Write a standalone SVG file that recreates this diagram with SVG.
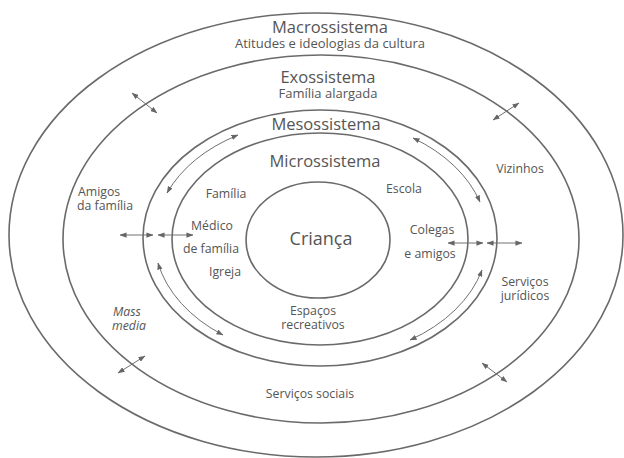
<svg xmlns="http://www.w3.org/2000/svg" width="624" height="458" viewBox="0 0 624 458">
<defs>
<marker id="ah" viewBox="0 0 8 6" refX="7.5" refY="3" markerWidth="7" markerHeight="5.5" markerUnits="userSpaceOnUse" orient="auto-start-reverse">
<path d="M0,0 L8,3 L0,6 Z" fill="#666"/>
</marker>
</defs>
<style>
.ring{fill:none;stroke:#6a6a6a;stroke-width:1.6}
.arr{fill:none;stroke:#707070;stroke-width:1;marker-start:url(#ah);marker-end:url(#ah)}
text{font-family:"Open Sans","Liberation Sans",sans-serif;fill:#555}
.title{font-size:16.5px;text-anchor:middle}
.sub{font-size:13px;text-anchor:middle}
.lbl{font-size:12.3px;text-anchor:middle}
.lbs{font-size:12.3px;text-anchor:start}
.it{font-style:italic}
</style>
<rect width="624" height="458" fill="#fff"/>
<g id="macrossistema">
<ellipse class="ring" cx="316" cy="235" rx="307" ry="222"/>
<text class="title" x="330" y="33">Macrossistema</text>
<text class="sub" x="330" y="48">Atitudes e ideologias da cultura</text>
</g>
<g id="exossistema">
<ellipse class="ring" cx="321" cy="239" rx="258" ry="184"/>
<text class="title" x="328" y="83">Exossistema</text>
<text class="sub" x="328" y="98">Família alargada</text>
<text class="lbs" x="78" y="196">Amigos</text>
<text class="lbs" x="77" y="210">da família</text>
<text class="lbl" x="520" y="173">Vizinhos</text>
<text class="lbl" x="525" y="286">Serviços</text>
<text class="lbl" x="525" y="300">jurídicos</text>
<text class="lbs it" x="113" y="316">Mass</text>
<text class="lbs it" x="112" y="330">media</text>
<text class="lbl" x="310" y="398">Serviços sociais</text>
</g>
<g id="mesossistema">
<ellipse class="ring" cx="320" cy="238" rx="177" ry="128"/>
<text class="title" x="326" y="130">Mesossistema</text>
</g>
<g id="microssistema">
<ellipse class="ring" cx="320" cy="239" rx="148" ry="106"/>
<text class="title" x="325" y="167">Microssistema</text>
<text class="lbl" x="226" y="198">Família</text>
<text class="lbl" x="212" y="230">Médico</text>
<text class="lbl" x="211" y="253">de família</text>
<text class="lbl" x="225" y="276">Igreja</text>
<text class="lbl" x="404" y="193">Escola</text>
<text class="lbl" x="432" y="234">Colegas</text>
<text class="lbl" x="430" y="258">e amigos</text>
<text class="lbl" x="313" y="315">Espaços</text>
<text class="lbl" x="313" y="329">recreativos</text>
</g>
<g id="crianca">
<ellipse class="ring" cx="318" cy="240" rx="72" ry="58"/>
<text x="321" y="245" style="font-size:18px;text-anchor:middle">Criança</text>
</g>
<g id="connectors">
<path class="arr" d="M167,193 A166,120 0 0 1 238,135"/>
<path class="arr" d="M413,138 A166,120 0 0 1 480,202"/>
<path class="arr" d="M482,270 A166,120 0 0 1 410,340"/>
<path class="arr" d="M223,335 A166,120 0 0 1 158,263"/>
<line class="arr" x1="120" y1="235" x2="153" y2="235"/>
<line class="arr" x1="158" y1="235" x2="193" y2="235"/>
<line class="arr" x1="448" y1="243" x2="483" y2="243"/>
<line class="arr" x1="487" y1="243" x2="522" y2="243"/>
<line class="arr" x1="132" y1="93" x2="157" y2="113"/>
<line class="arr" x1="493" y1="120" x2="519" y2="103"/>
<line class="arr" x1="118" y1="373" x2="145" y2="356"/>
<line class="arr" x1="482" y1="363" x2="507" y2="382"/>
</g>
</svg>
